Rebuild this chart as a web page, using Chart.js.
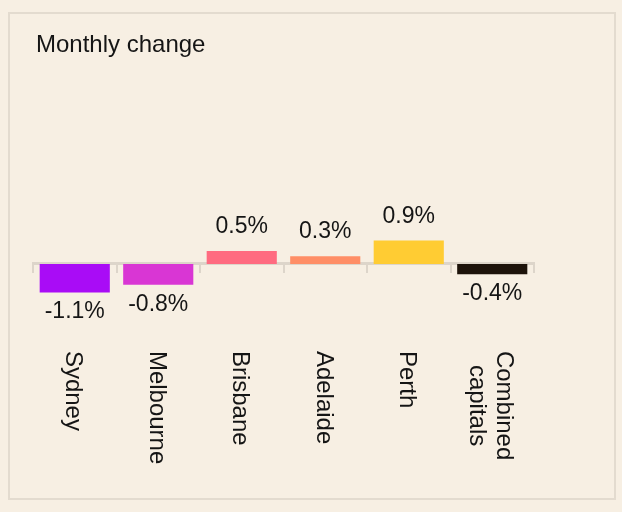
<!DOCTYPE html>
<html>
<head>
<meta charset="utf-8">
<script src="https://cdn.jsdelivr.net/npm/chart.js@4/dist/chart.umd.min.js"></script>
<style>
  html, body { margin: 0; padding: 0; background: #f7efe3; }
  #frame {
    position: absolute; left: 8px; top: 12px; width: 608px; height: 488px;
    box-sizing: border-box; border: 2px solid #e3dbcf;
  }
  #chart { position: absolute; left: 0; top: 0; }
</style>
</head>
<body>
<div id="frame"></div>
<canvas id="chart" width="622" height="512"></canvas>
<script>
// donnees
const cities = [['Sydney'], ['Melbourne'], ['Brisbane'], ['Adelaide'], ['Perth'], ['Combined', 'capitals']];
const monthlyChange = [-1.1, -0.8, 0.5, 0.3, 0.9, -0.4];
const barColours = ['#a90cf6', '#d936d4', '#ff6b80', '#ff8e66', '#ffcc33', '#1d130a'];
const chartTitle = 'Monthly change';

const textColour = '#151515';
const fontFamily = '"Liberation Sans", Arial, sans-serif';

// titre, etiquettes de valeur et noms de villes (tournes de 90 degres)
const drawTexts = {
    id: 'drawTexts',
    afterDraw(chart) {
        const ctx = chart.ctx;
        const xScale = chart.scales.x;
        const yScale = chart.scales.y;
        const meta = chart.getDatasetMeta(0);

        ctx.save();
        ctx.fillStyle = textColour;

        // titre
        ctx.font = '24px ' + fontFamily;
        ctx.textAlign = 'left';
        ctx.textBaseline = 'alphabetic';
        ctx.fillText(chartTitle, 36, 52);

        // valeurs
        ctx.font = '23px ' + fontFamily;
        ctx.textAlign = 'center';
        meta.data.forEach((bar, i) => {
            const v = monthlyChange[i];
            const txt = v.toFixed(1) + '%';
            if (v >= 0) {
                ctx.fillText(txt, bar.x, Math.min(bar.y, bar.base) - 18);
            } else {
                ctx.fillText(txt, bar.x, Math.max(bar.y, bar.base) + 26);
            }
        });

        // noms des villes
        const size = 24;
        const lineH = size * 1.15;
        const capH = size * 0.716;
        const top = yScale.getPixelForValue(0) + 87;
        ctx.font = size + 'px ' + fontFamily;
        ctx.textAlign = 'left';
        cities.forEach((lines, i) => {
            const x = xScale.getPixelForTick(i);
            const maxW = Math.max(...lines.map(l => ctx.measureText(l).width));
            ctx.save();
            ctx.translate(x, top);
            ctx.rotate(Math.PI / 2);
            lines.forEach((l, j) => {
                const w = ctx.measureText(l).width;
                const off = capH / 2 + (j - (lines.length - 1) / 2) * lineH;
                ctx.fillText(l, (maxW - w) / 2, off);
            });
            ctx.restore();
        });
        ctx.restore();
    }
};

new Chart(document.getElementById('chart').getContext('2d'), {
    type: 'bar',
    data: {
        labels: cities,
        datasets: [{
            data: monthlyChange,
            backgroundColor: barColours,
            borderWidth: 0,
            categoryPercentage: 1,
            barPercentage: 0.84
        }]
    },
    options: {
        responsive: false,
        animation: false,
        devicePixelRatio: 1,
        layout: {
            padding: { left: 33, right: 88, top: 238, bottom: 217 }
        },
        plugins: {
            legend: { display: false },
            title: { display: false },
            tooltip: { enabled: false }
        },
        scales: {
            x: {
                position: { y: 0 },
                z: 1,
                grid: {
                    drawOnChartArea: false,
                    drawTicks: true,
                    tickLength: 8,
                    color: '#ddd5ca',
                    lineWidth: 2
                },
                border: { display: true, color: '#ddd5ca', width: 3 },
                ticks: { display: false }
            },
            y: {
                display: false,
                min: -1.2,
                max: 1.0
            }
        }
    },
    plugins: [drawTexts]
});
</script>
</body>
</html>
